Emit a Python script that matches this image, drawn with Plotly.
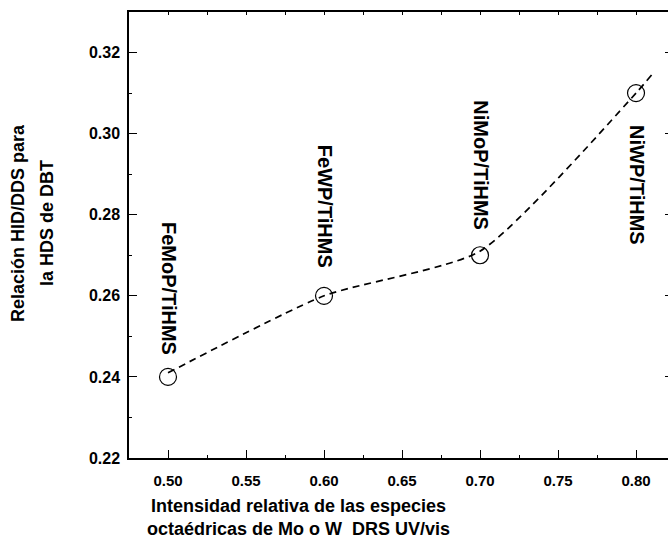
import plotly.graph_objects as go

# Relative intensity of octahedral Mo/W species (DRS UV-vis) vs HYD/DDS ratio
intensity = [0.50, 0.60, 0.70, 0.80]
hyd_dds = [0.240, 0.260, 0.270, 0.310]
catalysts = ["FeMoP/TiHMS", "FeWP/TiHMS", "NiMoP/TiHMS", "NiWP/TiHMS"]

# Guide curve drawn through the points and a little beyond the last one
trend_x = [0.50, 0.60, 0.70, 0.80, 0.81]
trend_y = [0.241, 0.260, 0.271, 0.310, 0.3145]

x_ticks = [0.50, 0.55, 0.60, 0.65, 0.70, 0.75, 0.80]
y_ticks = [0.22, 0.24, 0.26, 0.28, 0.30, 0.32]

# vertical offsets (px) of the rotated labels relative to their point
label_shift = [89, 90, 90, -92]

FONT = "Liberation Sans, Arial, sans-serif"
X_RANGE = [0.475, 0.8205]
Y_RANGE = [0.22, 0.33]

fig = go.Figure()

fig.add_trace(go.Scatter(
    x=trend_x, y=trend_y, mode="lines",
    line=dict(color="black", width=1.7, dash="7px,5px", shape="spline", smoothing=0.6),
    hoverinfo="skip", showlegend=False,
))

fig.add_trace(go.Scatter(
    x=intensity, y=hyd_dds, mode="markers",
    marker=dict(symbol="circle-open", size=17, color="black", line=dict(width=1.2, color="black")),
    showlegend=False,
))

# invisible trace so the top/right frame axes are drawn
fig.add_trace(go.Scatter(x=[intensity[0]], y=[hyd_dds[0]], xaxis="x2", yaxis="y2",
                         mode="markers", marker=dict(opacity=0), hoverinfo="skip", showlegend=False))

for xv, yv, name, dy in zip(intensity, hyd_dds, catalysts, label_shift):
    fig.add_annotation(
        x=xv, y=yv, xref="x", yref="y", text=f"<b>{name}</b>",
        textangle=90, showarrow=False, yshift=dy, xshift=1,
        font=dict(family=FONT, size=20, color="black"),
    )

tick_font = dict(family=FONT, size=15, color="black")

fig.update_layout(
    width=668, height=542,
    margin=dict(l=129, r=0, t=12, b=84),
    paper_bgcolor="white", plot_bgcolor="white",
    xaxis=dict(
        range=X_RANGE, tickvals=x_ticks, ticktext=[f"<b>{v:.2f}</b>" for v in x_ticks],
        ticks="inside", ticklen=8, tickwidth=1.2, tickcolor="black",
        minor=dict(tickvals=[v + 0.025 for v in x_ticks], ticks="inside", ticklen=3, tickcolor="black"),
        showline=True, linecolor="black", linewidth=1.5, showgrid=False, zeroline=False,
        tickfont=tick_font, ticklabelstandoff=8,
    ),
    yaxis=dict(
        range=Y_RANGE, tickvals=y_ticks, ticktext=[f"<b>{v:.2f}</b>" for v in y_ticks],
        ticks="inside", ticklen=8, tickwidth=1.2, tickcolor="black",
        minor=dict(tickvals=[v + 0.01 for v in y_ticks], ticks="inside", ticklen=3, tickcolor="black"),
        showline=True, linecolor="black", linewidth=1.5, showgrid=False, zeroline=False,
        tickfont=dict(family=FONT, size=16, color="black"), ticklabelstandoff=4,
    ),
    xaxis2=dict(
        overlaying="x", side="top", anchor="y2", range=X_RANGE,
        tickvals=[0.475 + 0.025 * i for i in range(15)], ticks="inside", ticklen=3,
        tickcolor="black", showticklabels=False, showline=True, linecolor="black",
        linewidth=1.5, showgrid=False, zeroline=False,
    ),
    yaxis2=dict(
        overlaying="y", side="right", anchor="x2", range=Y_RANGE,
        tickvals=y_ticks, ticks="inside", ticklen=3, tickcolor="black",
        showticklabels=False, showline=False, showgrid=False, zeroline=False,
    ),
)

fig.add_annotation(
    xref="paper", yref="paper", x=0.315, y=0.0, yshift=-59, xanchor="center", yanchor="middle",
    text="<b>Intensidad relativa de las especies<br>octaédricas de Mo o W  DRS UV/vis</b>",
    showarrow=False, font=dict(family=FONT, size=18, color="black"),
)
for line, dx in [("Relación HID/DDS para", -111), ("la HDS de DBT", -82)]:
    fig.add_annotation(
        xref="paper", yref="paper", x=0.0, y=0.5, xshift=dx, yshift=12,
        xanchor="center", yanchor="middle", text=f"<b>{line}</b>", textangle=-90,
        showarrow=False, font=dict(family=FONT, size=18, color="black"),
    )

fig.write_html("out.html")
